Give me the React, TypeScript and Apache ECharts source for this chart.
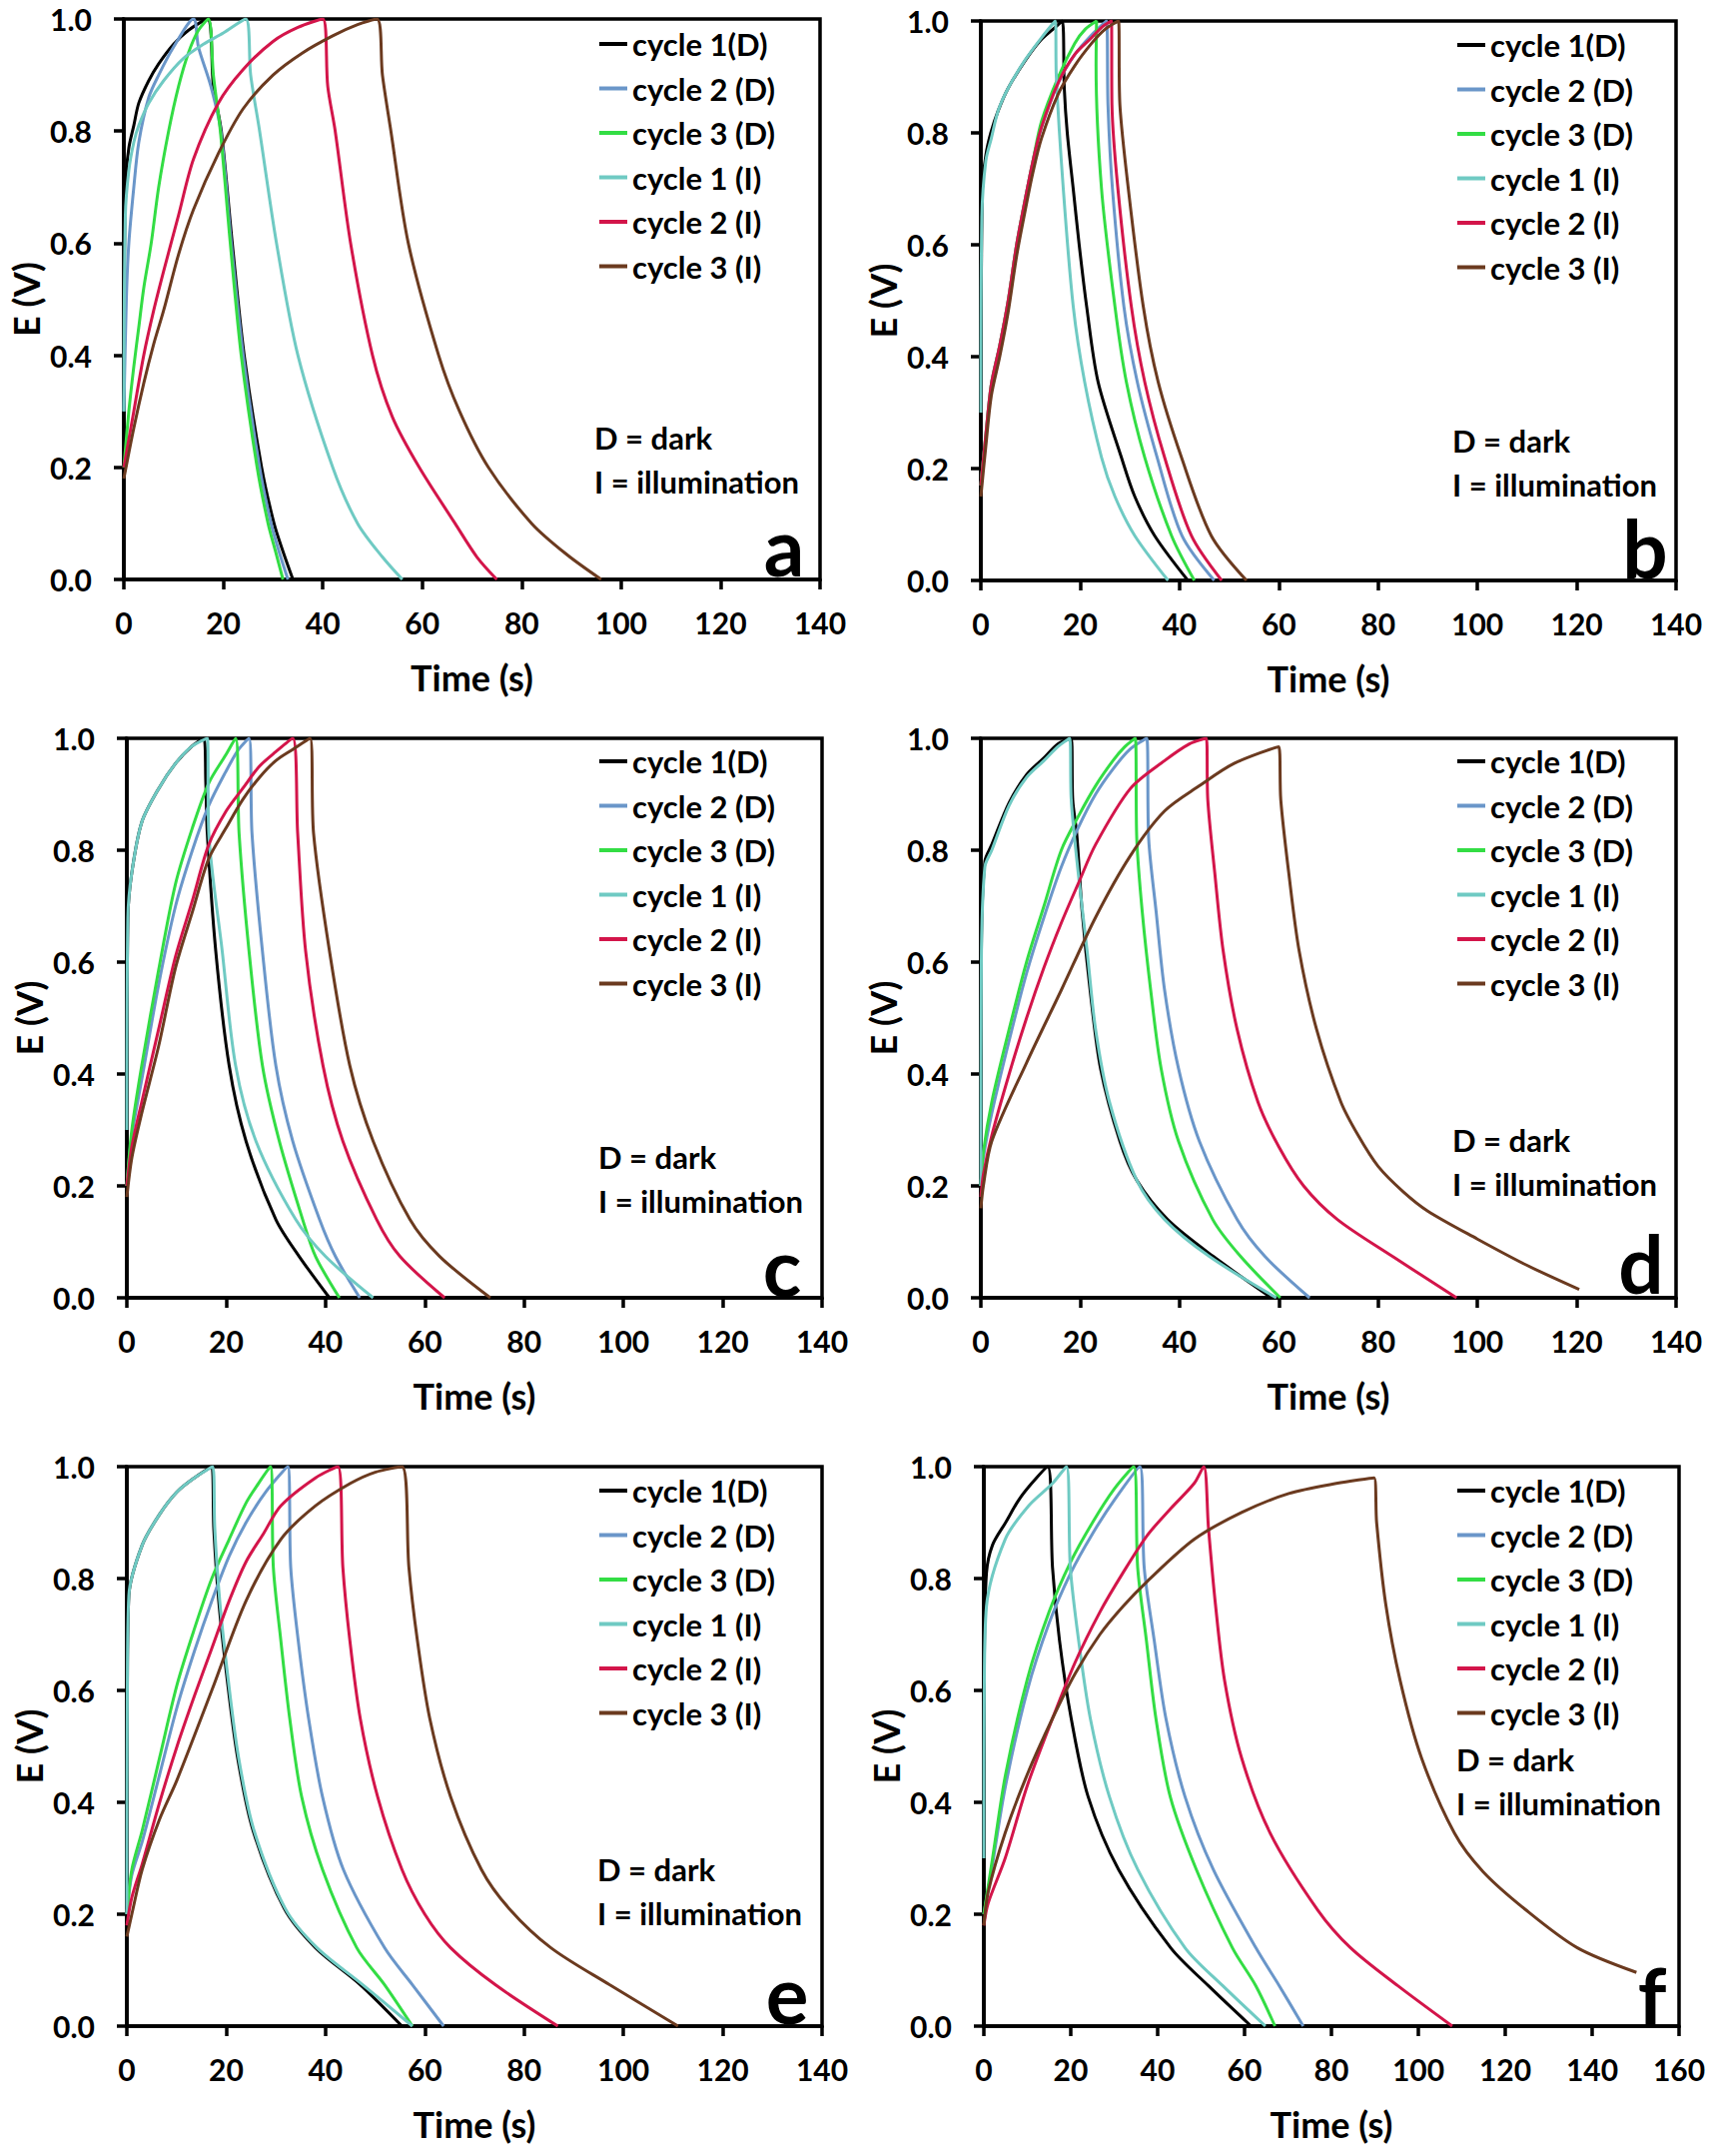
import React, { useEffect, useRef } from "react";
import * as echarts from "echarts";

const FONT = "Lato";
const SERIES_NAMES = ["cycle 1(D)", "cycle 2 (D)", "cycle 3 (D)", "cycle 1 (I)", "cycle 2 (I)", "cycle 3 (I)"];
const SERIES_COLORS = ["#000000", "#6a96c9", "#33dd44", "#6fcac3", "#d3154a", "#6b3a1f"];
const PANEL_LETTERS = ["a", "b", "c", "d", "e", "f"];
const X_MAX = [140, 140, 140, 140, 140, 160];
const NOTE_LINES = ["D = dark", "I = illumination"];

// Panel a
const A_C1D = [[0,0.3],[0.3,0.7],[1,0.77],[2,0.81],[3,0.85],[5,0.89],[7,0.92],[10,0.955],[13,0.98],[16.8,1.0],[18,0.88],[19.6,0.8],[21.8,0.6],[24.2,0.4],[27.7,0.2],[30.2,0.1],[32,0.05],[34,0]];
const A_C2D = [[0,0.3],[0.5,0.5],[1,0.6],[2,0.7],[3,0.78],[5,0.86],[7,0.9],[10,0.95],[14,1.0],[15,0.95],[17.5,0.88],[19.5,0.8],[21.6,0.6],[24,0.4],[27.3,0.2],[29.6,0.1],[31.2,0.05],[33,0]];
const A_C3D = [[0,0.2],[1,0.3],[2,0.38],[3,0.45],[4,0.52],[5.5,0.6],[7,0.7],[9,0.8],[11,0.88],[13,0.94],[15,0.98],[17,1.0],[18,0.9],[19.4,0.8],[21.4,0.6],[23.6,0.4],[26.8,0.2],[29,0.1],[30.5,0.05],[32,0]];
const A_C1I = [[0,0.3],[0.3,0.65],[1,0.73],[2,0.78],[3,0.81],[5,0.85],[8,0.89],[12,0.93],[16,0.955],[20,0.975],[24.5,1.0],[25.5,0.9],[27.3,0.8],[30.7,0.6],[35,0.4],[42,0.2],[47,0.1],[52,0.04],[56,0]];
const A_C2I = [[0,0.2],[2,0.3],[4,0.4],[6,0.48],[8,0.55],[11,0.65],[14,0.75],[19,0.85],[24,0.91],[30,0.96],[35,0.985],[40,1.0],[41,0.88],[42.5,0.8],[45.6,0.6],[50,0.4],[54,0.29],[59.4,0.2],[66.6,0.1],[71,0.04],[75,0]];
const A_C3I = [[0,0.18],[2,0.27],[4,0.35],[6,0.42],[8,0.48],[11,0.58],[14,0.66],[19,0.76],[24,0.84],[30,0.9],[36,0.94],[42,0.97],[47,0.99],[50.9,1.0],[52,0.9],[53.7,0.8],[57.2,0.6],[63.3,0.4],[67.5,0.3],[73.3,0.2],[82,0.1],[89,0.045],[96,0]];

// Panel b
const B_C1D = [[0,0.3],[0.3,0.7],[1,0.76],[2,0.8],[3.5,0.84],[5.5,0.88],[9,0.93],[12,0.965],[14.5,0.985],[16.4,1.0],[16.8,0.88],[17.4,0.8],[18.6,0.7],[19.8,0.6],[21.3,0.49],[23.6,0.355],[28.3,0.22],[31,0.15],[35,0.08],[41.7,0]];
const B_C2D = [[0,0.17],[1,0.26],[2.1,0.35],[3.8,0.42],[5.5,0.5],[7.2,0.6],[8.9,0.68],[10.5,0.75],[12.2,0.81],[15.6,0.89],[18.9,0.94],[22.3,0.975],[25.3,1.0],[25.6,0.85],[26.5,0.7],[28.8,0.49],[31.5,0.355],[35.5,0.22],[40.5,0.08],[47,0]];
const B_C3D = [[0,0.17],[1,0.26],[2.1,0.35],[3.8,0.42],[5.5,0.5],[7.2,0.6],[8.9,0.68],[10.5,0.75],[12.2,0.82],[15.6,0.9],[18.9,0.96],[21,0.985],[23.3,1.0],[23.2,0.92],[24.3,0.7],[27,0.49],[29.3,0.355],[33,0.22],[38.4,0.08],[43,0]];
const B_C1I = [[0,0.3],[0.2,0.65],[1,0.75],[2.1,0.79],[3.5,0.84],[5.5,0.88],[8.9,0.93],[12.2,0.97],[15,1.0],[15.2,0.9],[16.6,0.7],[18.6,0.49],[20.9,0.355],[24.3,0.22],[27,0.15],[31,0.08],[37.7,0]];
const B_C2I = [[0,0.17],[1,0.26],[2.1,0.35],[3.8,0.42],[5.5,0.5],[7.2,0.6],[8.9,0.68],[10.5,0.75],[12.2,0.81],[15.6,0.89],[18.9,0.94],[22.3,0.97],[24.5,0.99],[26.3,1.0],[26.4,0.85],[27.6,0.7],[30.3,0.49],[33,0.355],[37,0.22],[42.4,0.08],[48.5,0]];
const B_C3I = [[0,0.15],[1,0.24],[2.1,0.33],[3.8,0.4],[5.5,0.48],[7.2,0.58],[8.9,0.66],[10.5,0.73],[12.2,0.79],[15.6,0.87],[18.9,0.92],[22.3,0.96],[25,0.985],[27.7,1.0],[28,0.85],[29.7,0.7],[32.7,0.49],[35.7,0.355],[40.4,0.22],[46.4,0.08],[53.5,0]];

// Panel c
const C_C1D = [[0,0.3],[0.2,0.68],[1,0.76],[3,0.85],[6.4,0.91],[9.8,0.955],[13,0.985],[15.5,1.0],[15.9,0.92],[16.2,0.83],[17.9,0.62],[20.6,0.415],[24,0.28],[30,0.14],[34.7,0.074],[40.8,0]];
const C_C2D = [[0,0.2],[1,0.29],[3,0.39],[6.4,0.56],[9.8,0.7],[13.2,0.8],[16.5,0.88],[19.9,0.94],[22.5,0.98],[24.6,1.0],[25.2,0.83],[27.3,0.62],[30,0.415],[33.4,0.28],[38.8,0.14],[42,0.074],[46.9,0]];
const C_C3D = [[0,0.2],[1,0.3],[3,0.415],[6.4,0.586],[9.8,0.74],[13.2,0.84],[16.5,0.92],[19.9,0.97],[21.9,1.0],[22.6,0.83],[24.6,0.62],[27.3,0.415],[30.7,0.28],[35.4,0.14],[38,0.074],[42.8,0]];
const C_C1I = [[0,0.3],[0.2,0.68],[1,0.76],[3,0.85],[6.4,0.91],[9.8,0.955],[13,0.985],[16.2,1.0],[16.5,0.83],[19.2,0.62],[21.9,0.415],[26,0.28],[34,0.14],[40,0.074],[49.6,0]];
const C_C2I = [[0,0.2],[1,0.27],[3,0.35],[6.4,0.48],[9.8,0.61],[13.2,0.71],[16.5,0.81],[20,0.87],[23.3,0.91],[26.7,0.95],[30,0.976],[33.4,1.0],[34.4,0.83],[36,0.62],[39.5,0.415],[43.5,0.28],[50.3,0.14],[55,0.074],[64,0]];
const C_C3I = [[0,0.18],[1,0.25],[3,0.33],[6.4,0.45],[9.8,0.59],[13.2,0.69],[16.5,0.785],[20,0.84],[23.3,0.89],[26.7,0.93],[30,0.96],[33.4,0.98],[36.9,1.0],[37.6,0.83],[40.8,0.62],[44.9,0.415],[49.6,0.28],[57,0.14],[63,0.074],[73.2,0]];

// Panel d
const D_C1D = [[0,0.2],[0.1,0.62],[0.8,0.78],[2.2,0.81],[5.7,0.885],[9.2,0.935],[12.7,0.965],[15.5,0.99],[18.2,1.0],[18.5,0.89],[19.3,0.83],[20.4,0.69],[22,0.55],[24.1,0.41],[28,0.28],[31.4,0.21],[37.6,0.14],[46.8,0.074],[58.5,0]];
const D_C2D = [[0,0.2],[0.5,0.25],[2.2,0.33],[5.7,0.46],[9.2,0.58],[12.7,0.68],[16.2,0.77],[19.6,0.84],[23.1,0.9],[26.6,0.945],[30,0.98],[33.4,1.0],[33.8,0.82],[35.3,0.69],[37,0.55],[39.8,0.41],[44,0.28],[51.6,0.14],[57.2,0.074],[66.2,0]];
const D_C3D = [[0,0.2],[0.5,0.26],[2.2,0.35],[5.7,0.48],[9.2,0.6],[12.7,0.7],[16.2,0.8],[19.6,0.86],[23.1,0.915],[26.6,0.96],[29,0.985],[31.1,1.0],[31.4,0.82],[32.5,0.69],[34.2,0.55],[36.3,0.41],[39.8,0.28],[46.7,0.14],[52.3,0.074],[60.3,0]];
const D_C1I = [[0,0.2],[0.1,0.6],[0.8,0.77],[2.2,0.8],[5.7,0.88],[9.2,0.93],[12.7,0.96],[15.5,0.985],[17.9,1.0],[18.2,0.89],[19.6,0.76],[21.4,0.62],[23.1,0.48],[25.9,0.35],[31.4,0.21],[37,0.14],[46,0.074],[59.5,0]];
const D_C2I = [[0,0.18],[0.5,0.22],[2.2,0.29],[5.7,0.4],[9.2,0.5],[12.7,0.59],[16.2,0.67],[19.6,0.74],[23.1,0.81],[30.1,0.91],[37,0.96],[42,0.99],[45.4,1.0],[45.7,0.89],[47.1,0.76],[48.8,0.62],[51.6,0.48],[55.8,0.35],[60,0.27],[65,0.2],[71.8,0.14],[82.9,0.074],[95.8,0]];
const D_C3I = [[0,0.16],[0.5,0.2],[2.2,0.28],[9.2,0.42],[16.2,0.55],[23.1,0.68],[30.1,0.79],[37,0.87],[44,0.915],[51,0.955],[60,0.985],[60.4,0.89],[62,0.76],[64.1,0.62],[67.6,0.48],[72.5,0.35],[76,0.29],[80,0.235],[85,0.19],[90,0.155],[100,0.105],[110,0.058],[120.5,0.015]];

// Panel e
const E_C1D = [[0,0.2],[0.1,0.6],[0.4,0.77],[3.1,0.86],[6.6,0.915],[10.1,0.955],[13.6,0.98],[17.1,1.0],[17.5,0.89],[18.5,0.76],[20.2,0.62],[22.3,0.48],[25.4,0.35],[31.7,0.21],[38,0.14],[47,0.074],[55.4,0]];
const E_C2D = [[0,0.2],[1,0.27],[3.1,0.33],[6.6,0.45],[10.1,0.57],[13.6,0.67],[17.1,0.76],[20.6,0.84],[24,0.9],[28,0.955],[32.4,1.0],[33,0.82],[34.5,0.69],[36.6,0.55],[39.4,0.41],[43.6,0.28],[51.9,0.14],[57.5,0.074],[63.8,0]];
const E_C3D = [[0,0.2],[1,0.28],[3.1,0.35],[6.6,0.48],[10.1,0.61],[13.6,0.71],[17.1,0.8],[20.6,0.87],[24,0.935],[26.5,0.97],[28.9,1.0],[29.5,0.82],[31,0.69],[32.8,0.55],[35.2,0.41],[39.4,0.28],[46.3,0.14],[51.9,0.074],[57.5,0]];
const E_C1I = [[0,0.2],[0.1,0.6],[0.4,0.77],[3.1,0.86],[6.6,0.915],[10.1,0.955],[13.6,0.98],[17.3,1.0],[17.7,0.89],[18.7,0.76],[20.4,0.62],[22.5,0.48],[25.6,0.35],[31.9,0.21],[38.3,0.14],[47.5,0.074],[57.5,0]];
const E_C2I = [[0,0.18],[1,0.23],[3.1,0.29],[6.6,0.4],[10.1,0.5],[13.6,0.59],[17.1,0.675],[20.6,0.76],[24,0.83],[27.5,0.88],[31,0.93],[38,0.98],[42.5,1.0],[43.5,0.82],[44.9,0.69],[47,0.55],[50.5,0.41],[55.4,0.28],[60,0.2],[65.2,0.14],[74.2,0.074],[86.8,0]];
const E_C3I = [[0,0.16],[1,0.2],[3.1,0.28],[6.6,0.37],[10.1,0.44],[17.1,0.6],[24,0.76],[31,0.87],[38,0.93],[45,0.97],[50,0.99],[55.4,1.0],[56.8,0.82],[58.5,0.69],[61,0.55],[65.2,0.41],[71.4,0.28],[77,0.21],[85.4,0.14],[97.2,0.074],[111,0]];

// Panel f
const F_C1D = [[0,0.3],[0.1,0.65],[0.6,0.81],[2,0.86],[5,0.9],[8,0.94],[11,0.97],[14.7,1.0],[15.8,0.82],[17.4,0.69],[20.1,0.55],[24,0.41],[31,0.28],[43,0.14],[51.7,0.072],[61.5,0]];
const F_C2D = [[0,0.2],[2,0.29],[5,0.43],[10,0.6],[15,0.72],[20,0.81],[25,0.88],[30,0.94],[35.9,1.0],[36.9,0.82],[39.2,0.69],[41.9,0.55],[46.3,0.41],[52.8,0.28],[62.6,0.14],[68,0.072],[73.5,0]];
const F_C3D = [[0,0.2],[2,0.3],[5,0.45],[10,0.62],[15,0.74],[20,0.83],[25,0.9],[30,0.96],[34.5,1.0],[35.4,0.82],[37.4,0.69],[39.6,0.55],[42.9,0.41],[48.9,0.28],[57.2,0.14],[62.6,0.072],[67,0]];
const F_C1I = [[0,0.3],[0.1,0.6],[0.6,0.75],[4.9,0.87],[10.3,0.93],[15.8,0.97],[19,1.0],[19.9,0.82],[21.8,0.69],[24.5,0.55],[28.9,0.41],[35.4,0.28],[46.3,0.14],[55,0.072],[64.8,0]];
const F_C2I = [[0,0.18],[1,0.22],[4.9,0.3],[10,0.43],[15.8,0.55],[21,0.65],[26.7,0.74],[32,0.81],[37.6,0.877],[43,0.925],[48.4,0.97],[50.6,1.0],[51.7,0.89],[53.3,0.754],[55.4,0.618],[59.3,0.48],[65.9,0.345],[76.8,0.208],[84.4,0.14],[95.3,0.072],[107.8,0]];
const F_C3I = [[0,0.18],[1,0.24],[4.9,0.345],[10,0.45],[15.8,0.55],[21,0.63],[26.7,0.7],[32,0.75],[37.6,0.795],[48.4,0.87],[59.3,0.918],[70.2,0.952],[81.1,0.97],[89.8,0.98],[90.4,0.9],[92.5,0.754],[95.8,0.618],[100.7,0.48],[108.3,0.345],[114.9,0.276],[124.7,0.208],[136.6,0.14],[150.2,0.096]];

const PANEL_DATA = [
  [A_C1D, A_C2D, A_C3D, A_C1I, A_C2I, A_C3I],
  [B_C1D, B_C2D, B_C3D, B_C1I, B_C2I, B_C3I],
  [C_C1D, C_C2D, C_C3D, C_C1I, C_C2I, C_C3I],
  [D_C1D, D_C2D, D_C3D, D_C1I, D_C2I, D_C3I],
  [E_C1D, E_C2D, E_C3D, E_C1I, E_C2I, E_C3I],
  [F_C1D, F_C2D, F_C3D, F_C1I, F_C2I, F_C3I],
];

// layout (pixels)
const LAYOUT = [
  { left: 124, top: 19, w: 697, h: 561, lgX: 600, lgY: 27, nX: 595, nY: 438, ltX: 785, ltY: 546 },
  { left: 982, top: 21, w: 696, h: 560, lgX: 1459, lgY: 28, nX: 1454, nY: 441, ltX: 1647, ltY: 548 },
  { left: 127, top: 739, w: 696, h: 560, lgX: 600, lgY: 745, nX: 599, nY: 1158, ltX: 783, ltY: 1267 },
  { left: 982, top: 739, w: 696, h: 560, lgX: 1459, lgY: 745, nX: 1454, nY: 1141, ltX: 1643, ltY: 1264 },
  { left: 127, top: 1468, w: 696, h: 560, lgX: 600, lgY: 1475, nX: 598, nY: 1871, ltX: 788, ltY: 1995 },
  { left: 985, top: 1468, w: 696, h: 560, lgX: 1459, lgY: 1475, nX: 1458, nY: 1761, ltX: 1654, ltY: 1997 },
];

const AXIS_W = 3.5;
const txt = (size: number) => ({ fontFamily: FONT, fontWeight: "bold" as const, fontSize: size, color: "#000" });

export default function App() {
  const ref = useRef<HTMLDivElement>(null);
  useEffect(() => {
    const chart = echarts.init(ref.current as HTMLDivElement, undefined, { renderer: "svg" });
    const grid = LAYOUT.map((p) => ({
      left: p.left, top: p.top, width: p.w, height: p.h,
      show: true, borderColor: "#000", borderWidth: AXIS_W, containLabel: false,
    }));
    const xAxis = LAYOUT.map((_, i) => ({
      type: "value", gridIndex: i, min: 0, max: X_MAX[i], interval: 20,
      name: "Time (s)", nameLocation: "middle", nameGap: 80, nameTextStyle: txt(36),
      axisLine: { show: true, onZero: false, lineStyle: { color: "#000", width: AXIS_W } },
      axisTick: { show: true, inside: false, length: 10, lineStyle: { color: "#000", width: AXIS_W } },
      axisLabel: { ...txt(30), margin: 28 },
      splitLine: { show: false },
    }));
    const yAxis = LAYOUT.map((_, i) => ({
      type: "value", gridIndex: i, min: 0, max: 1, interval: 0.2,
      name: "E (V)", nameLocation: "middle", nameGap: 80, nameTextStyle: txt(36),
      axisLine: { show: true, onZero: false, lineStyle: { color: "#000", width: AXIS_W } },
      axisTick: { show: true, inside: false, length: 10, lineStyle: { color: "#000", width: AXIS_W } },
      axisLabel: { ...txt(30), margin: 32, formatter: (v: number) => v.toFixed(1) },
      splitLine: { show: false },
    }));
    const series: any[] = [];
    PANEL_DATA.forEach((panel, pi) => {
      panel.forEach((d, si) => {
        series.push({
          type: "line", name: SERIES_NAMES[si], xAxisIndex: pi, yAxisIndex: pi,
          data: d, showSymbol: false, symbol: "none", smooth: 0.3,
          lineStyle: { color: SERIES_COLORS[si], width: 3 },
          itemStyle: { color: SERIES_COLORS[si] },
          emphasis: { disabled: true },
        });
      });
    });
    const legend = LAYOUT.map((p) => ({
      orient: "vertical", left: p.lgX, top: p.lgY, padding: 0,
      itemWidth: 28, itemHeight: 4, itemGap: 10.5, icon: "rect",
      selectedMode: false, data: SERIES_NAMES,
      textStyle: { ...txt(31), lineHeight: 34 },
    }));
    const graphic: any[] = [];
    LAYOUT.forEach((p, i) => {
      NOTE_LINES.forEach((line, k) => {
        graphic.push({
          type: "text", x: p.nX, y: p.nY + k * 44,
          style: { text: line, ...txt(31), fill: "#000", textAlign: "left", textVerticalAlign: "middle" },
        });
      });
      graphic.push({
        type: "text", x: p.ltX, y: p.ltY,
        style: { text: PANEL_LETTERS[i], ...txt(80), fill: "#000", textAlign: "center", textVerticalAlign: "middle" },
      });
    });
    chart.setOption({
      animation: false,
      backgroundColor: "#fff",
      grid, xAxis, yAxis, series, legend, graphic,
    });
    return () => chart.dispose();
  }, []);
  return <div ref={ref} style={{ position: "absolute", left: 0, top: 0, width: 1713, height: 2158 }} />;
}
